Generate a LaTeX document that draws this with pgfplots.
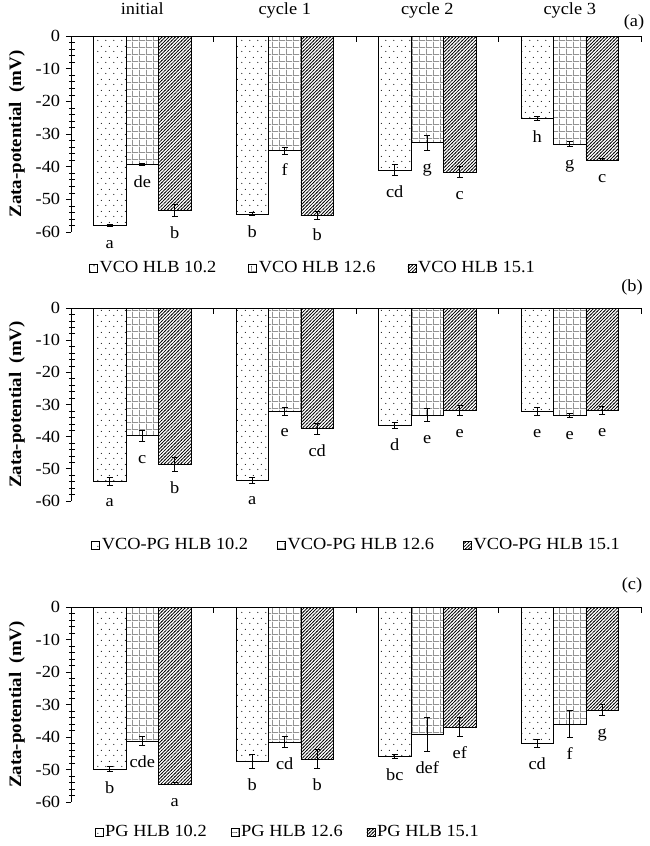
\documentclass[border=0pt]{standalone}
\usepackage{fontspec}
\setmainfont{Liberation Serif}[FakeStretch=1.08]
\usepackage{pgfplots}
\usepackage{pgfplotstable}
\pgfplotsset{compat=1.18}
\usetikzlibrary{patterns,patterns.meta}

\tikzdeclarepattern{
  name=sdots, type=uncolored,
  bottom left={(0pt,0pt)}, top right={(8pt,11pt)}, tile size={(8pt,11pt)},
  code={\pgfpathcircle{\pgfqpoint{2pt}{2.75pt}}{0.6pt}\pgfpathcircle{\pgfqpoint{6pt}{8.25pt}}{0.6pt}\pgfusepath{fill}}
}
\tikzdeclarepattern{
  name=dgrid, type=uncolored,
  bottom left={(0pt,0pt)}, top right={(6.6pt,6.6pt)}, tile size={(6.6pt,6.6pt)},
  code={\pgfsetlinewidth{0.7pt}\pgfsetdash{{0.55pt}{0.55pt}}{0pt}
   \pgfpathmoveto{\pgfqpoint{0pt}{0.3pt}}\pgfpathlineto{\pgfqpoint{6.6pt}{0.3pt}}
   \pgfpathmoveto{\pgfqpoint{0.3pt}{0pt}}\pgfpathlineto{\pgfqpoint{0.3pt}{6.6pt}}\pgfusepath{stroke}}
}
\tikzdeclarepattern{
  name=hatch, type=uncolored,
  bottom left={(-1pt,-1pt)}, top right={(4.3pt,4.3pt)}, tile size={(3.3pt,3.3pt)},
  code={\pgfsetlinewidth{0.7pt}\pgfpathmoveto{\pgfqpoint{-0.5pt}{-0.5pt}}\pgfpathlineto{\pgfqpoint{3.8pt}{3.8pt}}\pgfusepath{stroke}}
}

% g: group; d/de/dl: dots bar value, error, letter; m: grid bar; h: hatched bar
\pgfplotstableread{
g d de dl m me ml h he hl
0 -58.1 0.3 a -39.4 0.3 de -53.4 1.9 b
1 -54.5 0.5 b -35.1 1.0 f -54.9 1.1 b
2 -41.0 1.7 cd -32.6 2.3 g -41.7 1.7 c
3 -25.2 0.6 h -33.0 0.8 g -37.9 0.3 c
}\tA
\pgfplotstableread{
g d de dl m me ml h he hl
0 -53.9 1.1 a -39.7 1.8 c -48.5 2.2 b
1 -53.5 0.9 a -32.0 1.25 e -37.5 1.75 cd
2 -36.5 1.0 d -33.2 2.1 e -31.8 1.65 e
3 -32.1 1.3 e -33.3 0.6 e -31.8 1.3 e
}\tB
\pgfplotstableread{
g d de dl m me ml h he hl
0 -49.8 0.7 b -41.2 1.4 cde -54.4 0.3 a
1 -47.4 2.2 b -41.5 1.8 cd -46.8 2.9 b
2 -46.0 0.65 bc -39.2 5.2 def -36.9 3.0 ef
3 -41.9 1.2 cd -36.0 4.2 f -31.7 1.6 g
}\tC

\pgfplotsset{
  panel/.style={
    scale only axis, width=570pt, anchor=south west, clip=false,
    xmin=-0.5, xmax=3.5, ymin=-60, ymax=0,
    axis x line*=top, axis y line*=left,
    axis line style={line width=0.8pt},
    xtick={0,1,2,3}, minor xtick={0.5,1.5,2.5,3.5},
    major x tick style={draw=none},
    minor x tick style={line width=0.7pt, black, yshift=-5.5pt},
    ytick={-60,-50,...,0}, minor y tick num=4,
    tick align=outside, major tick length=5pt, minor tick length=5.5pt,
    major y tick style={line width=0.7pt, black},
    minor y tick style={line width=0.6pt, black, xshift=4pt},
    /pgf/number format/assume math mode=true,
    ticklabel style={font=\fontsize{17}{20}\selectfont},
    xticklabel style={anchor=base, yshift=17pt},
    ylabel={\textbf{Zata-potential\ \ (mV)}},
    ylabel style={at={(axis description cs:-0.095,0.5)}, anchor=center, font=\fontsize{17.5}{20}\selectfont},
    legend style={draw=none, fill=none, legend columns=3, anchor=west,
      font=\fontsize{17}{20}\selectfont},
    legend cell align=left,
  },
  bwd/.style={ybar, bar width=0.228, bar shift=0pt, draw=black, line width=0.6pt,
    legend image code/.code={\draw[##1, line width=0.5pt] (0pt,-4pt) rectangle (8pt,4pt);},
    error bars/y dir=both, error bars/y explicit,
    error bars/error bar style={black, line width=0.8pt},
    error bars/error mark options={black, line width=0.8pt, mark size=3.2pt, rotate=90}},
  lab/.style={draw=none, forget plot, nodes near coords, point meta=explicit symbolic,
    nodes near coords style={anchor=base, yshift=-22pt, font=\fontsize{17}{20}\selectfont}},
}

\begin{document}
\fontsize{17}{20}\selectfont
\begin{tikzpicture}
\useasboundingbox (0,0) rectangle (650pt,-846pt);

% ---------- (a)
\begin{axis}[panel, height=196pt, at={(71pt,-232pt)},
  xticklabels={initial, cycle 1, cycle 2, cycle 3},
  legend style={at={(axis description cs:0.026,-0.184)},
    /tikz/every even column/.append style={column sep=30pt}}]
\addplot[bwd, pattern=sdots] table[x expr=\thisrow{g}-0.228, y=d, y error=de] {\tA};
\addplot[bwd, pattern=dgrid] table[x=g, y=m, y error=me] {\tA};
\addplot[bwd, pattern=hatch] table[x expr=\thisrow{g}+0.228, y=h, y error=he] {\tA};
\addplot[lab] table[x expr=\thisrow{g}-0.228, y expr=\thisrow{d}-\thisrow{de}, meta=dl] {\tA};
\addplot[lab] table[x=g, y expr=\thisrow{m}-\thisrow{me}, meta=ml] {\tA};
\addplot[lab] table[x expr=\thisrow{g}+0.228, y expr=\thisrow{h}-\thisrow{he}, meta=hl] {\tA};
\legend{VCO HLB 10.2, VCO HLB 12.6, VCO HLB 15.1}
\end{axis}

% ---------- (b)
\begin{axis}[panel, height=193pt, at={(71pt,-501pt)},
  xticklabels={},
  legend style={at={(axis description cs:0.03,-0.228)},
    /tikz/every even column/.append style={column sep=27pt}}]
\addplot[bwd, pattern=sdots] table[x expr=\thisrow{g}-0.228, y=d, y error=de] {\tB};
\addplot[bwd, pattern=dgrid] table[x=g, y=m, y error=me] {\tB};
\addplot[bwd, pattern=hatch] table[x expr=\thisrow{g}+0.228, y=h, y error=he] {\tB};
\addplot[lab] table[x expr=\thisrow{g}-0.228, y expr=\thisrow{d}-\thisrow{de}, meta=dl] {\tB};
\addplot[lab] table[x=g, y expr=\thisrow{m}-\thisrow{me}, meta=ml] {\tB};
\addplot[lab] table[x expr=\thisrow{g}+0.228, y expr=\thisrow{h}-\thisrow{he}, meta=hl] {\tB};
\legend{VCO-PG HLB 10.2, VCO-PG HLB 12.6, VCO-PG HLB 15.1}
\end{axis}

% ---------- (c)
\begin{axis}[panel, height=195pt, at={(71pt,-802pt)},
  xticklabels={},
  legend style={at={(axis description cs:0.036,-0.154)},
    /tikz/every even column/.append style={column sep=22pt}}]
\addplot[bwd, pattern=sdots] table[x expr=\thisrow{g}-0.228, y=d, y error=de] {\tC};
\addplot[bwd, pattern=dgrid] table[x=g, y=m, y error=me] {\tC};
\addplot[bwd, pattern=hatch] table[x expr=\thisrow{g}+0.228, y=h, y error=he] {\tC};
\addplot[lab] table[x expr=\thisrow{g}-0.228, y expr=\thisrow{d}-\thisrow{de}, meta=dl] {\tC};
\addplot[lab] table[x=g, y expr=\thisrow{m}-\thisrow{me}, meta=ml] {\tC};
\addplot[lab] table[x expr=\thisrow{g}+0.228, y expr=\thisrow{h}-\thisrow{he}, meta=hl] {\tC};
\legend{PG HLB 10.2, PG HLB 12.6, PG HLB 15.1}
\end{axis}

\node[font=\fontsize{17}{20}\selectfont] at (634pt,-22pt) {(a)};
\node[font=\fontsize{17}{20}\selectfont] at (632pt,-287pt) {(b)};
\node[font=\fontsize{17}{20}\selectfont] at (632pt,-585pt) {(c)};
\end{tikzpicture}
\end{document}
